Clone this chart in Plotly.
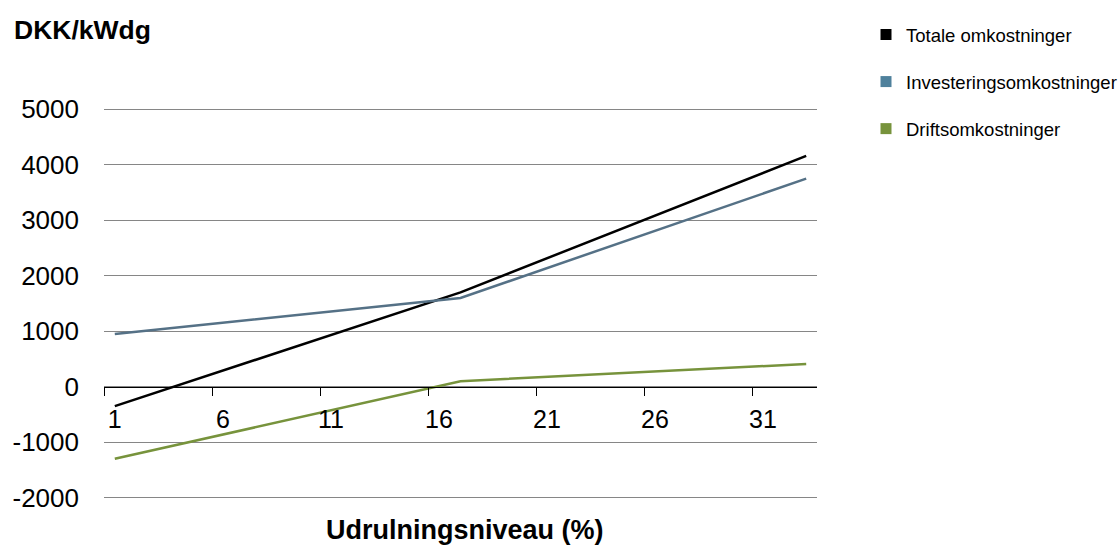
import plotly.graph_objects as go

# Udrulningsniveau (%) - categories where the cost curves are given
niveau = [1, 17, 33]

# DKK/kWdg per series
totale = [-350, 1700, 4160]
investering = [950, 1600, 3750]
drift = [-1300, 100, 410]

series_names = ["Totale omkostninger", "Investeringsomkostninger", "Driftsomkostninger"]
line_colors = ["#000000", "#557186", "#77933c"]
legend_colors = ["#000000", "#4f819c", "#77933c"]

x_labels = [1, 6, 11, 16, 21, 26, 31]
y_ticks = [-2000, -1000, 0, 1000, 2000, 3000, 4000, 5000]

FONT = "Arial, Liberation Sans, sans-serif"
Y_MIN, Y_MAX = -2000, 5000
PAD = 60  # a few pixels of headroom so the outer gridlines are drawn
y_lo, y_hi = Y_MIN - PAD, Y_MAX + PAD
zero_pos = (0 - y_lo) / (y_hi - y_lo)

fig = go.Figure()

for name, ys, lc, gc in zip(series_names, [totale, investering, drift], line_colors, legend_colors):
    fig.add_trace(go.Scatter(
        x=niveau, y=ys, mode="lines", name=name,
        line=dict(color=lc, width=2.5),
        showlegend=False, legendgroup=name,
    ))
    # square swatch shown in the legend
    fig.add_trace(go.Scatter(
        x=[None], y=[None], mode="markers", name=name,
        marker=dict(symbol="square", size=11, color=gc),
        legendgroup=name, showlegend=True,
    ))

# category tick marks sit between categories, labels at the category centres
tick_marks = [v - 0.5 for v in x_labels]

fig.add_trace(go.Scatter(x=[None], y=[None], xaxis="x2", showlegend=False))

# plot area in pixels (gridlines -2000..5000)
L, R, T, B = 104, 817, 109, 498
W, H = 1119, 545
units_per_px = (Y_MAX - Y_MIN) / (B - T)
top_px = T - PAD / units_per_px
bot_px = B + PAD / units_per_px
pw, ph = R - L, bot_px - top_px

def py(pixel_y):
    return (bot_px - pixel_y) / ph

def px(pixel_x):
    return (pixel_x - L) / pw

fig.update_layout(
    width=W, height=H,
    margin=dict(l=L, r=W - R, t=top_px, b=H - bot_px, autoexpand=False),
    paper_bgcolor="white", plot_bgcolor="white",
    font=dict(family=FONT, color="#000000"),
    xaxis=dict(
        range=[0.5, 33.5], anchor="free", position=zero_pos,
        tickmode="array", tickvals=tick_marks,
        showticklabels=False, ticks="outside", ticklen=8, tickcolor="#000000", tickwidth=1,
        showline=True, linecolor="#000000", linewidth=1,
        showgrid=False, zeroline=False,
    ),
    xaxis2=dict(
        range=[0.5, 33.5], overlaying="x", matches="x", anchor="free", position=zero_pos,
        tickmode="array", tickvals=x_labels, ticktext=[str(v) for v in x_labels],
        ticks="", ticklabelstandoff=15,
        tickfont=dict(size=25, family=FONT, color="#000000"),
        showline=False, showgrid=False, zeroline=False,
    ),
    yaxis=dict(
        range=[y_lo, y_hi], tickmode="array", tickvals=y_ticks,
        ticktext=[str(v) for v in y_ticks],
        tickfont=dict(size=26, family=FONT, color="#000000"),
        ticks="", ticklabelstandoff=24,
        showgrid=True, gridcolor="#868686", gridwidth=1,
        zeroline=False, showline=False,
    ),
    legend=dict(
        xref="container", yref="container",
        x=866 / W, y=1 - 16 / H, xanchor="left", yanchor="top",
        font=dict(size=18.5, family=FONT, color="#000000"),
        tracegroupgap=20, itemwidth=30,
        bgcolor="rgba(0,0,0,0)",
    ),
    annotations=[
        dict(text="<b>DKK/kWdg</b>", xref="paper", yref="paper",
             x=px(12), y=py(30), xanchor="left", yanchor="middle",
             showarrow=False, font=dict(size=26.5, family=FONT, color="#000000")),
        dict(text="<b>Udrulningsniveau (%)</b>", xref="paper", yref="paper",
             x=px(465), y=py(530), xanchor="center", yanchor="middle",
             showarrow=False, font=dict(size=27, family=FONT, color="#000000")),
    ],
)

fig.write_html("out.html")
